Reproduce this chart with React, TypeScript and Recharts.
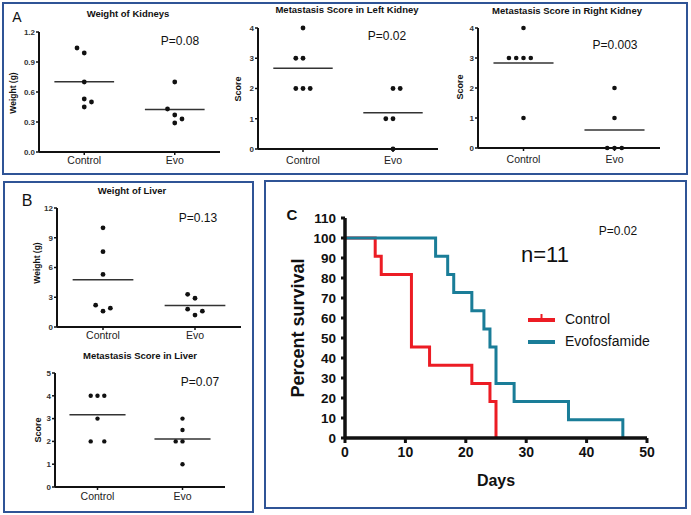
import React from 'react';
import {
  ScatterChart,
  Scatter,
  LineChart,
  Line,
  XAxis,
  YAxis,
  ReferenceLine,
} from 'recharts';

const groups = ['Control', 'Evo'];

// A - kidneys (values + side-by-side slot of each dot)
const kidneyWeightCtrl = [1.04, 0.99, 0.7, 0.53, 0.5, 0.45];
const kidneyWeightCtrlPos = [-1, 0, 0, 0, 1, 0];
const kidneyWeightEvo = [0.7, 0.43, 0.37, 0.33, 0.29];
const kidneyWeightEvoPos = [0, -1, 0, 1, 0];

const leftScoreCtrl = [4, 3, 3, 2, 2, 2];
const leftScoreCtrlPos = [0, -1, 0, -1, 0, 1];
const leftScoreEvo = [2, 2, 1, 1, 0];
const leftScoreEvoPos = [0, 1, -1, 0, 0];

const rightScoreCtrl = [4, 3, 3, 3, 3, 1];
const rightScoreCtrlPos = [0, -2, -1, 0, 1, 0];
const rightScoreEvo = [2, 1, 0, 0, 0];
const rightScoreEvoPos = [0, 0, -1, 0, 1];

// B - liver
const liverWeightCtrl = [10.0, 7.6, 5.3, 2.2, 1.6, 1.9];
const liverWeightCtrlPos = [0, 0, 0, -1, 0, 1];
const liverWeightEvo = [3.3, 2.9, 1.8, 1.6, 1.2];
const liverWeightEvoPos = [-1, 0, -1, 1, 0];

const liverScoreCtrl = [4, 4, 4, 3, 2, 2];
const liverScoreCtrlPos = [-1, 0, 1, 0, -1, 1];
const liverScoreEvo = [3, 2.5, 2, 2, 1];
const liverScoreEvoPos = [0, 0, -1, 0, 0];

// C - survival
const ctrlDays = [0, 5, 6, 11, 14, 21, 24, 25];
const ctrlSurvival = [100, 90.9, 81.8, 45.5, 36.4, 27.3, 18.2, 0];
const evoDays = [0, 15, 17, 18, 21, 23, 24, 25, 28, 37, 46];
const evoSurvival = [100, 90.9, 81.8, 72.7, 63.6, 54.5, 45.5, 27.3, 18.2, 9.1, 0];
const dayTicks = [0, 10, 20, 30, 40, 50];
const pctTicks = [0, 10, 20, 30, 40, 50, 60, 70, 80, 90, 100, 110];
const survivalSeries = [
  { name: 'Control', color: '#ec1c24' },
  { name: 'Evofosfamide', color: '#1a7d98' },
];

const FONT = '"Liberation Sans", Arial, sans-serif';
const BORDER = '#2f5496';

const mean = (a: number[]) => a.reduce((s, v) => s + v, 0) / a.length;

const Txt = ({ x, y, size, bold, rotate, children }: any) => (
  <div
    style={{
      position: 'absolute',
      left: x,
      top: y,
      fontSize: size,
      fontWeight: bold ? 'bold' : 'normal',
      color: '#111',
      whiteSpace: 'nowrap',
      lineHeight: 1,
      transform: `translate(-50%, -50%)${rotate ? ' rotate(-90deg)' : ''}`,
    }}
  >
    {children}
  </div>
);

const Box = ({ x, y, w, h }: any) => (
  <div
    style={{
      position: 'absolute',
      left: x,
      top: y,
      width: w,
      height: h,
      boxSizing: 'border-box',
      border: `2px solid ${BORDER}`,
    }}
  />
);

const DotPanel = ({ x0, y0, w, h, yMax, yTicks, digits, ctrl, ctrlPos, evo, evoPos, gap, r }: any) => {
  const step = 0.08;
  const ctrlPts = ctrl.map((v: number, i: number) => ({ x: 1 + ctrlPos[i] * step, y: v }));
  const evoPts = evo.map((v: number, i: number) => ({ x: 2 + evoPos[i] * step, y: v }));
  const mc = mean(ctrl);
  const me = mean(evo);
  const dot = (p: any) => <circle cx={p.cx} cy={p.cy} r={r} fill="#111" />;
  return (
    <div style={{ position: 'absolute', left: x0 - 40, top: y0 - 10 }}>
      <ScatterChart width={w + 50} height={h + 35} margin={{ top: 10, right: 10, bottom: 0, left: 0 }}>
        <XAxis
          type="number"
          dataKey="x"
          domain={[0.5, 2.5]}
          ticks={[1, 2]}
          interval={0}
          tickFormatter={(v: number) => groups[Math.round(v) - 1]}
          height={25}
          tick={{ fontSize: 10.5, fill: '#222' }}
          tickSize={3}
          tickMargin={gap}
          axisLine={{ stroke: '#111', strokeWidth: 2 }}
          tickLine={{ stroke: '#111', strokeWidth: 1.5 }}
        />
        <YAxis
          type="number"
          dataKey="y"
          domain={[0, yMax]}
          ticks={yTicks}
          interval={0}
          tickFormatter={(v: number) => v.toFixed(digits)}
          width={40}
          tick={{ fontSize: 8, fontWeight: 'bold', fill: '#333' }}
          tickSize={3}
          tickMargin={1}
          axisLine={{ stroke: '#111', strokeWidth: 2 }}
          tickLine={{ stroke: '#111', strokeWidth: 1.5 }}
        />
        <ReferenceLine
          segment={[{ x: 0.67, y: mc }, { x: 1.33, y: mc }]}
          stroke="#333"
          strokeWidth={1.5}
        />
        <ReferenceLine
          segment={[{ x: 1.67, y: me }, { x: 2.33, y: me }]}
          stroke="#333"
          strokeWidth={1.5}
        />
        <Scatter data={ctrlPts} shape={dot} isAnimationActive={false} />
        <Scatter data={evoPts} shape={dot} isAnimationActive={false} />
      </ScatterChart>
    </div>
  );
};

const SurvivalLegend = () => (
  <div style={{ position: 'absolute', left: 528, top: 308 }}>
    {survivalSeries.map((s, i) => (
      <div key={s.name} style={{ display: 'flex', alignItems: 'center', height: 22 }}>
        <svg width={37} height={12}>
          <line x1={0} y1={7} x2={27} y2={7} stroke={s.color} strokeWidth={4} />
          {i === 0 && <line x1={13.5} y1={1} x2={13.5} y2={7} stroke={s.color} strokeWidth={2} />}
        </svg>
        <span style={{ fontSize: 14, color: '#111' }}>{s.name}</span>
      </div>
    ))}
  </div>
);

const SurvivalPanel = () => {
  const ctrlData = ctrlDays.map((d, i) => ({ day: d, pct: ctrlSurvival[i] }));
  const evoData = evoDays.map((d, i) => ({ day: d, pct: evoSurvival[i] }));
  return (
    <div style={{ position: 'absolute', left: 285, top: 208 }}>
      <LineChart width={372} height={260} margin={{ top: 10, right: 10, bottom: 0, left: 0 }}>
        <XAxis
          type="number"
          dataKey="day"
          domain={[0, 50]}
          ticks={dayTicks}
          interval={0}
          height={30}
          tick={{ fontSize: 14, fontWeight: 'bold', fill: '#111' }}
          tickSize={5}
          tickMargin={4}
          axisLine={{ stroke: '#111', strokeWidth: 3.5 }}
          tickLine={{ stroke: '#111', strokeWidth: 3 }}
        />
        <YAxis
          type="number"
          domain={[0, 110]}
          ticks={pctTicks}
          interval={0}
          width={60}
          tick={{ fontSize: 13.5, fontWeight: 'bold', fill: '#111' }}
          tickSize={4}
          tickMargin={5}
          axisLine={{ stroke: '#111', strokeWidth: 3.5 }}
          tickLine={{ stroke: '#111', strokeWidth: 3 }}
        />
        <Line
          data={ctrlData}
          dataKey="pct"
          name={survivalSeries[0].name}
          type="stepAfter"
          stroke={survivalSeries[0].color}
          strokeWidth={3}
          dot={false}
          activeDot={false}
          isAnimationActive={false}
        />
        <Line
          data={evoData}
          dataKey="pct"
          name={survivalSeries[1].name}
          type="stepAfter"
          stroke={survivalSeries[1].color}
          strokeWidth={3}
          dot={false}
          activeDot={false}
          isAnimationActive={false}
        />
      </LineChart>
    </div>
  );
};

export default function App() {
  return (
    <div
      style={{
        position: 'absolute',
        left: 0,
        top: 0,
        width: 691,
        height: 515,
        background: '#fff',
        fontFamily: FONT,
        overflow: 'hidden',
      }}
    >
      <Box x={2} y={2} w={686} h={173} />
      <Box x={3} y={181} w={251} h={332} />
      <Box x={264} y={180} w={423} h={329} />

      {/* A */}
      <Txt x={17} y={17} size={14}>A</Txt>
      <Txt x={128} y={14} size={9.5} bold>Weight of Kidneys</Txt>
      <Txt x={13} y={93} size={8.5} bold rotate>Weight (g)</Txt>
      <Txt x={180} y={41} size={12}>P=0.08</Txt>
      <DotPanel x0={39} y0={32} w={181} h={120} yMax={1.2} yTicks={[0, 0.3, 0.6, 0.9, 1.2]} digits={1}
        ctrl={kidneyWeightCtrl} ctrlPos={kidneyWeightCtrlPos} evo={kidneyWeightEvo} evoPos={kidneyWeightEvoPos} gap={2} r={2.4} />

      <Txt x={347} y={10} size={9.5} bold>Metastasis Score in Left Kidney</Txt>
      <Txt x={238} y={89} size={9} bold rotate>Score</Txt>
      <Txt x={387} y={36} size={12}>P=0.02</Txt>
      <DotPanel x0={258} y0={28} w={180} h={121} yMax={4} yTicks={[0, 1, 2, 3, 4]} digits={0}
        ctrl={leftScoreCtrl} ctrlPos={leftScoreCtrlPos} evo={leftScoreEvo} evoPos={leftScoreEvoPos} gap={5} r={2.4} />

      <Txt x={567} y={11} size={9.5} bold>Metastasis Score in Right Kidney</Txt>
      <Txt x={460} y={87} size={9} bold rotate>Score</Txt>
      <Txt x={615} y={45} size={12}>P=0.003</Txt>
      <DotPanel x0={478} y0={28} w={182} h={120} yMax={4} yTicks={[0, 1, 2, 3, 4]} digits={0}
        ctrl={rightScoreCtrl} ctrlPos={rightScoreCtrlPos} evo={rightScoreEvo} evoPos={rightScoreEvoPos} gap={5} r={2.3} />

      {/* B */}
      <Txt x={27} y={201} size={16}>B</Txt>
      <Txt x={132} y={191} size={9.5} bold>Weight of Liver</Txt>
      <Txt x={37} y={263} size={8.5} bold rotate>Weight (g)</Txt>
      <Txt x={198} y={218} size={12}>P=0.13</Txt>
      <DotPanel x0={57} y0={208} w={184} h={119} yMax={12} yTicks={[0, 3, 6, 9, 12]} digits={0}
        ctrl={liverWeightCtrl} ctrlPos={liverWeightCtrlPos} evo={liverWeightEvo} evoPos={liverWeightEvoPos} gap={2} r={2.4} />

      <Txt x={140} y={356} size={9.5} bold>Metastasis Score in Liver</Txt>
      <Txt x={38} y={430} size={9} bold rotate>Score</Txt>
      <Txt x={200} y={382} size={12}>P=0.07</Txt>
      <DotPanel x0={55} y0={373} w={170} h={114} yMax={5} yTicks={[0, 1, 2, 3, 4, 5]} digits={0}
        ctrl={liverScoreCtrl} ctrlPos={liverScoreCtrlPos} evo={liverScoreEvo} evoPos={liverScoreEvoPos} gap={3} r={2.2} />

      {/* C */}
      <Txt x={292} y={214} size={15} bold>C</Txt>
      <Txt x={298} y={328} size={18} bold rotate>Percent survival</Txt>
      <Txt x={496} y={481} size={16} bold>Days</Txt>
      <Txt x={545} y={255} size={22}>n=11</Txt>
      <Txt x={618} y={231} size={12}>P=0.02</Txt>
      <SurvivalPanel />
      <SurvivalLegend />
    </div>
  );
}
